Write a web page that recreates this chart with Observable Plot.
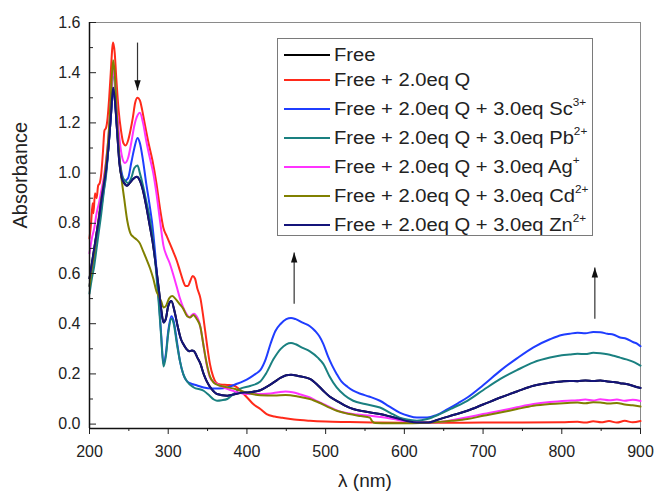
<!DOCTYPE html>
<html><head><meta charset="utf-8">
<script src="https://cdn.jsdelivr.net/npm/d3@7"></script>
<script src="https://cdn.jsdelivr.net/npm/@observablehq/plot@0.6"></script>
<style>
body{margin:0;background:#fff;}
#wrap{position:relative;width:655px;height:492px;font-family:"Liberation Sans",Arial,sans-serif;}
#legend{position:absolute;left:277px;top:38px;width:314px;height:196px;border:1px solid #7a7a7a;background:#fff;}
.row{position:absolute;left:0;height:22px;width:312px;}
.row .sw{position:absolute;left:6px;top:10px;width:46px;height:2px;}
.row .lb{position:absolute;left:56px;top:0;font-size:18px;line-height:22px;color:#222;white-space:nowrap;transform:scaleX(1.12);transform-origin:0 50%;}
.row sup{font-size:10.5px;vertical-align:0;position:relative;top:-9px;}
</style></head>
<body><div id="wrap"></div>
<script>
// ---- data (wavelength nm, absorbance) ----
const zn = [[200,0.58],[203,0.64],[206,0.70],[209,0.76],[212,0.82],[215,0.89],[218,0.95],[221,1.01],[224,1.10],[227,1.22],[230,1.34],[232,1.30],[235,1.17],[238,1.04],[241,0.98],[244,0.96],[247.5,0.95],[251,0.96],[255,0.975],[260,0.985],[264,0.97],[268,0.93],[272,0.87],[276,0.80],[280,0.73],[284,0.64],[288,0.54],[291,0.46],[294,0.405],[297,0.42],[300,0.47],[304,0.49],[308,0.45],[312,0.39],[316,0.34],[319,0.32],[323,0.30],[327,0.29],[330,0.293],[333,0.29],[337,0.265],[341,0.24],[345,0.20],[349,0.17],[355,0.14],[362,0.12],[375,0.113],[391,0.124],[404,0.127],[417,0.135],[426,0.15],[434,0.166],[443,0.185],[450,0.195],[456,0.197],[465,0.192],[480,0.18],[490,0.155],[497,0.133],[505,0.11],[514,0.093],[524,0.075],[535,0.06],[550,0.05],[569,0.04],[582,0.03],[594,0.02],[605,0.011],[616,0.006],[629,0.006],[645,0.02],[662,0.036],[680,0.053],[700,0.078],[722,0.106],[743,0.13],[764,0.153],[785,0.165],[800,0.17],[810,0.172],[820,0.171],[830,0.174],[840,0.172],[849,0.174],[858,0.17],[866,0.168],[874,0.163],[882,0.16],[891,0.152],[896,0.147],[900,0.144]];
const free = [[200,0.58],[203,0.64],[206,0.70],[209,0.76],[212,0.82],[215,0.89],[218,0.95],[221,1.01],[224,1.10],[227,1.22],[230,1.34],[232,1.30],[235,1.17],[238,1.04],[241,0.98],[244,0.96],[247.5,0.95],[251,0.96],[255,0.975],[260,0.985],[264,0.97],[268,0.93],[272,0.87],[276,0.80],[280,0.73],[284,0.64],[288,0.54],[291,0.46],[294,0.405],[297,0.42],[300,0.47],[304,0.49],[308,0.45],[312,0.39],[316,0.34],[319,0.32],[323,0.30],[327,0.29],[330,0.293],[333,0.29],[337,0.265],[341,0.24],[345,0.20],[349,0.17],[355,0.14],[362,0.12],[375,0.113],[391,0.124],[404,0.127],[417,0.135],[426,0.15],[434,0.166],[443,0.185],[450,0.195],[456,0.197],[465,0.192],[480,0.18],[490,0.155],[497,0.133],[505,0.11],[514,0.093],[524,0.075],[535,0.06],[550,0.05],[569,0.04],[582,0.03],[594,0.02],[605,0.011],[616,0.006],[629,0.006],[645,0.02],[662,0.036],[680,0.053],[700,0.078],[722,0.106],[743,0.13],[764,0.153],[785,0.165],[800,0.17],[810,0.172],[820,0.171],[830,0.174],[840,0.172],[849,0.174],[858,0.17],[866,0.168],[874,0.163],[882,0.16],[891,0.152],[896,0.147],[900,0.144]];
const q = [[200,0.74],[202,0.80],[204,0.88],[205,0.84],[207,0.92],[209,0.90],[211,0.95],[213,0.96],[215,1.00],[217,1.08],[219,1.17],[221,1.18],[223,1.22],[225,1.30],[227,1.40],[229,1.50],[230,1.52],[232,1.48],[234,1.38],[237,1.25],[240,1.17],[243,1.12],[246,1.11],[249,1.13],[252,1.17],[255,1.22],[258,1.28],[261,1.30],[264,1.29],[267,1.25],[270,1.20],[275,1.12],[280,1.05],[285,0.96],[290,0.85],[294,0.78],[298,0.75],[302,0.72],[306,0.69],[311,0.65],[315,0.61],[319,0.57],[322,0.55],[325,0.55],[328,0.57],[331,0.59],[334,0.58],[337,0.54],[341,0.50],[344,0.44],[347,0.37],[350,0.30],[353,0.24],[357,0.19],[361,0.165],[366,0.158],[375,0.156],[383,0.154],[390,0.14],[396,0.12],[402,0.10],[408,0.08],[417,0.06],[425,0.04],[435,0.03],[445,0.025],[460,0.018],[480,0.013],[500,0.010],[530,0.008],[560,0.006],[600,0.005],[650,0.005],[700,0.006],[750,0.006],[800,0.007],[820,0.009],[830,0.006],[840,0.011],[850,0.007],[860,0.012],[870,0.006],[880,0.013],[890,0.007],[900,0.012]];
const sc = [[200,0.55],[203,0.61],[206,0.67],[209,0.74],[212,0.80],[215,0.86],[218,0.93],[221,1.00],[224,1.10],[227,1.22],[230,1.33],[232,1.30],[235,1.18],[238,1.06],[241,1.00],[245,0.97],[249,0.98],[253,1.04],[257,1.10],[261,1.14],[264,1.12],[268,1.05],[272,0.96],[276,0.88],[280,0.79],[284,0.66],[288,0.50],[291,0.36],[294,0.24],[297,0.28],[300,0.37],[304,0.43],[307,0.41],[311,0.33],[315,0.25],[319,0.20],[324,0.17],[330,0.16],[336,0.155],[345,0.146],[355,0.142],[365,0.142],[375,0.146],[385,0.158],[395,0.17],[404,0.185],[411,0.20],[417,0.215],[424,0.26],[430,0.32],[436,0.37],[443,0.40],[450,0.418],[456,0.423],[462,0.418],[470,0.405],[480,0.39],[487,0.37],[492,0.35],[497,0.32],[503,0.27],[508,0.235],[514,0.20],[520,0.17],[528,0.148],[535,0.133],[545,0.12],[555,0.11],[569,0.093],[580,0.072],[594,0.046],[605,0.033],[616,0.026],[629,0.026],[640,0.035],[655,0.06],[668,0.083],[680,0.106],[700,0.155],[722,0.213],[743,0.262],[764,0.306],[785,0.338],[800,0.355],[810,0.36],[820,0.364],[830,0.362],[840,0.367],[849,0.366],[858,0.36],[866,0.356],[874,0.345],[882,0.34],[891,0.326],[896,0.32],[900,0.31]];
const pb = [[200,0.52],[203,0.58],[206,0.63],[209,0.70],[212,0.77],[215,0.84],[218,0.92],[221,0.99],[224,1.10],[227,1.26],[230,1.42],[232,1.36],[235,1.19],[238,1.06],[241,0.99],[245,0.97],[249,0.96],[253,0.98],[257,1.02],[261,1.03],[264,1.00],[268,0.95],[272,0.89],[276,0.83],[280,0.75],[284,0.63],[288,0.48],[291,0.35],[294,0.23],[297,0.27],[300,0.36],[304,0.42],[307,0.40],[311,0.32],[315,0.25],[319,0.20],[324,0.17],[332,0.147],[345,0.133],[352,0.115],[358,0.098],[362,0.093],[368,0.095],[375,0.10],[383,0.12],[391,0.14],[404,0.152],[417,0.17],[424,0.20],[434,0.26],[443,0.30],[450,0.318],[456,0.323],[462,0.318],[470,0.305],[480,0.29],[490,0.265],[497,0.24],[505,0.19],[514,0.146],[524,0.115],[535,0.093],[550,0.08],[569,0.066],[582,0.045],[594,0.026],[606,0.017],[616,0.013],[629,0.02],[645,0.04],[662,0.065],[680,0.093],[700,0.135],[722,0.18],[743,0.215],[764,0.246],[785,0.265],[800,0.274],[810,0.277],[820,0.28],[830,0.279],[840,0.284],[849,0.282],[858,0.278],[866,0.272],[874,0.265],[882,0.258],[891,0.248],[896,0.24],[900,0.233]];
const ag = [[200,0.68],[203,0.74],[206,0.78],[209,0.84],[212,0.88],[215,0.93],[218,0.98],[221,1.05],[224,1.14],[227,1.28],[230,1.41],[232,1.38],[235,1.25],[238,1.14],[241,1.07],[245,1.04],[249,1.06],[253,1.12],[257,1.19],[261,1.23],[264,1.24],[268,1.20],[272,1.13],[276,1.07],[281,1.00],[285,0.92],[290,0.80],[294,0.71],[298,0.67],[302,0.64],[306,0.60],[311,0.545],[315,0.50],[319,0.465],[323,0.44],[327,0.425],[330,0.435],[333,0.44],[336,0.43],[340,0.40],[344,0.33],[347,0.27],[350,0.22],[353,0.186],[357,0.17],[362,0.16],[370,0.146],[380,0.135],[390,0.125],[400,0.12],[410,0.12],[420,0.12],[430,0.122],[440,0.127],[449,0.13],[458,0.127],[468,0.118],[480,0.106],[490,0.09],[502,0.073],[512,0.058],[523,0.046],[540,0.038],[557,0.033],[570,0.028],[586,0.02],[600,0.012],[611,0.007],[625,0.005],[637,0.006],[650,0.01],[665,0.018],[680,0.027],[700,0.04],[722,0.053],[743,0.067],[764,0.08],[785,0.088],[807,0.093],[820,0.095],[830,0.098],[840,0.094],[849,0.099],[860,0.095],[870,0.098],[880,0.093],[890,0.097],[900,0.092]];
const cd = [[200,0.55],[203,0.62],[206,0.68],[209,0.76],[212,0.83],[215,0.90],[218,0.96],[221,1.04],[224,1.14],[227,1.30],[230,1.45],[232,1.40],[235,1.22],[238,1.06],[241,0.97],[244,0.90],[248,0.81],[252,0.76],[256,0.745],[260,0.735],[264,0.72],[268,0.69],[272,0.66],[277,0.62],[281,0.58],[285,0.53],[288,0.51],[291,0.49],[294,0.465],[297,0.47],[301,0.50],[305,0.51],[309,0.50],[314,0.48],[319,0.46],[324,0.43],[328,0.425],[332,0.435],[336,0.42],[341,0.385],[345,0.31],[349,0.24],[353,0.19],[358,0.165],[364,0.155],[370,0.15],[385,0.14],[400,0.125],[417,0.115],[435,0.114],[449,0.116],[465,0.11],[480,0.10],[492,0.085],[502,0.07],[515,0.052],[530,0.04],[545,0.032],[556,0.026],[559,0.012],[563,0.004],[580,0.003],[600,0.003],[620,0.004],[640,0.007],[660,0.013],[680,0.02],[700,0.033],[722,0.046],[743,0.06],[764,0.073],[785,0.08],[807,0.084],[820,0.086],[830,0.083],[840,0.087],[849,0.086],[860,0.082],[870,0.084],[880,0.078],[890,0.075],[900,0.07]];

const seriesNames = ["Free","Free + 2.0eq Q","Free + 2.0eq Q + 3.0eq Sc","Free + 2.0eq Q + 3.0eq Pb","Free + 2.0eq Q + 3.0eq Ag","Free + 2.0eq Q + 3.0eq Cd","Free + 2.0eq Q + 3.0eq Zn"];
const seriesSup = ["","","3+","2+","+","2+","2+"];
const seriesColors = ["#000000","#ff2a1a","#1f3dff","#1a8080","#ff33ff","#808000","#14147a"];
const seriesData = [free, q, sc, pb, ag, cd, zn];

const xTicks = [200,300,400,500,600,700,800,900];
const xMinor = [250,350,450,550,650,750,850];
const yTicks = [0,0.2,0.4,0.6,0.8,1.0,1.2,1.4,1.6];
const yMinor = [0.1,0.3,0.5,0.7,0.9,1.1,1.3,1.5];
const yMin = -0.0175;

// arrows: x (nm), tail, head (absorbance)
const arrowX = [261, 460, 842];
const arrowTail = [1.52, 0.48, 0.42];
const arrowHead = [1.33, 0.684, 0.624];
const arrows = arrowX.map((x, i) => ({x, tail: arrowTail[i], head: arrowHead[i], rot: arrowHead[i] < arrowTail[i] ? 180 : 0}));

const headSymbol = {draw(ctx, size) { const s = Math.sqrt(size / Math.PI); ctx.moveTo(0, 0); ctx.lineTo(-0.32 * s, s); ctx.lineTo(0.32 * s, s); ctx.closePath(); }};

const W = 655, H = 492, ML = 89, MR = 15, MT = 22, MB = 64;
const plotW = W - ML - MR;

const lineMarks = seriesData.map((d, i) => Plot.line(d, {x: p => p[0], y: p => p[1], stroke: seriesColors[i], strokeWidth: 2, curve: "monotone-x"}));

const chart = Plot.plot({
  width: W, height: H,
  marginLeft: ML, marginRight: MR, marginTop: MT, marginBottom: MB,
  style: {fontFamily: '"Liberation Sans", Arial, sans-serif', fontSize: "16px", color: "#222", background: "#fff"},
  x: {domain: [200, 900]},
  y: {domain: [yMin, 1.6]},
  marks: [
    Plot.frame({stroke: "#8a8a8a"}),
    ...lineMarks,
    Plot.link(arrows, {x1: "x", x2: "x", y1: "tail", y2: "head", stroke: "#333", strokeWidth: 1.2}),
    Plot.dot(arrows, {x: "x", y: "head", symbol: headSymbol, r: 10, fill: "#111", stroke: "none", rotate: "rot"}),
    Plot.axisX({ticks: xTicks, tickSize: 6, tickPadding: 11, tickFormat: d => String(d), label: null, stroke: "#222"}),
    Plot.axisX({ticks: xMinor, tickSize: 3, tickFormat: () => "", label: null, stroke: "#222"}),
    Plot.axisY({ticks: yTicks, tickSize: 0, tickPadding: 9, tickFormat: d3.format(".1f"), label: null}),
    Plot.tickY(yTicks, {y: d => d, insetRight: plotW - 7, stroke: "#222", strokeWidth: 1}),
    Plot.tickY(yMinor, {y: d => d, insetRight: plotW - 4, stroke: "#222", strokeWidth: 1}),
    Plot.ruleX([200], {stroke: "#111", strokeWidth: 1.5}),
    Plot.ruleY([yMin], {stroke: "#111", strokeWidth: 1.5}),
    Plot.text(["Absorbance"], {text: d => d, frameAnchor: "left", dx: -69, dy: 3, rotate: -90, fontSize: 20, lineAnchor: "middle", fill: "#222"}),
    Plot.text(["λ (nm)"], {text: d => d, frameAnchor: "bottom", dy: 52, fontSize: 19, lineAnchor: "middle", fill: "#222"})
  ]
});
const wrap = document.getElementById("wrap");
wrap.appendChild(chart);

// legend overlay
const rowCenters = [16, 41, 70, 99, 128, 157, 186];
const legend = document.createElement("div");
legend.id = "legend";
seriesNames.forEach((name, i) => {
  const row = document.createElement("div");
  row.className = "row";
  row.style.top = (rowCenters[i] - 11) + "px";
  const sw = document.createElement("div");
  sw.className = "sw";
  sw.style.background = seriesColors[i];
  const lb = document.createElement("div");
  lb.className = "lb";
  lb.textContent = name;
  if (seriesSup[i]) { const s = document.createElement("sup"); s.textContent = seriesSup[i]; lb.appendChild(s); }
  row.appendChild(sw); row.appendChild(lb);
  legend.appendChild(row);
});
wrap.appendChild(legend);
</script>
</body></html>
